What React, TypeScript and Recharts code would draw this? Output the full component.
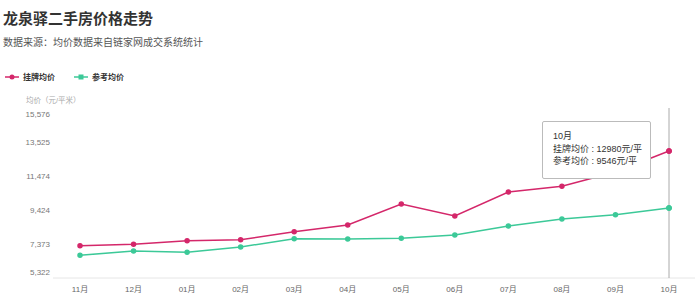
import { CartesianGrid, Line, LineChart, Tooltip, XAxis, YAxis } from 'recharts';

const months = ['11月', '12月', '01月', '02月', '03月', '04月', '05月', '06月', '07月', '08月', '09月', '10月'];
const listingPrice = [7270, 7355, 7572, 7632, 8115, 8519, 9786, 9062, 10510, 10853, 11716, 12980];
const referencePrice = [6691, 6951, 6872, 7192, 7693, 7674, 7717, 7916, 8459, 8881, 9140, 9546];
const yTicks = [5322, 7373, 9424, 11474, 13525, 15576];

const RED = '#d4276a';
const GREEN = '#3cc998';
const FONT = '"Liberation Sans", "Noto Sans CJK SC", sans-serif';

const data = months.map((month, i) => ({
  month,
  listing: listingPrice[i],
  reference: referencePrice[i],
}));

function YTick({ x, y, payload, index }: any) {
  // the end labels are nudged inside the plot like in the source chart
  const shift = index === 0 ? -6 : index === yTicks.length - 1 ? 6 : 0;
  return (
    <text x={x} y={y + shift} dy="0.35em" textAnchor="end" fontSize={8} fill="#777" fontFamily={FONT}>
      {payload.value.toLocaleString('en-US')}
    </text>
  );
}

function TooltipBox({ active, payload, label }: any) {
  if (!active || !payload || !payload.length) return null;
  const row = payload[0].payload;
  return (
    <div
      style={{
        background: '#fff',
        border: '1px solid #bbb',
        borderRadius: 2,
        padding: '8px 8px 10px 10px',
        fontSize: 9,
        lineHeight: '12.5px',
        color: '#333',
        fontFamily: FONT,
        whiteSpace: 'nowrap',
      }}
    >
      <div>{label}</div>
      <div>挂牌均价 : {row.listing}元/平</div>
      <div>参考均价 : {row.reference}元/平</div>
    </div>
  );
}

export default function App() {
  return (
    <div style={{ position: 'absolute', left: 0, top: 0, width: 700, height: 304, background: '#fff', fontFamily: FONT }}>
      <div style={{ position: 'absolute', left: 3, top: 7, fontSize: 15, fontWeight: 'bold', color: '#333' }}>
        龙泉驿二手房价格走势
      </div>
      <div style={{ position: 'absolute', left: 3, top: 34, fontSize: 10, color: '#555' }}>
        数据来源：均价数据来自链家网成交系统统计
      </div>
      <svg style={{ position: 'absolute', left: 0, top: 70 }} width={140} height={14}>
        <line x1={5} y1={7} x2={19} y2={7} stroke={RED} strokeWidth={1.5} />
        <circle cx={12} cy={7} r={2.5} fill={RED} />
        <text x={23} y={7} dy="0.35em" fontSize={8} fontWeight="bold" fill="#333" fontFamily={FONT}>挂牌均价</text>
        <line x1={74} y1={7} x2={88} y2={7} stroke={GREEN} strokeWidth={1.5} />
        <rect x={78.5} y={4.5} width={5} height={5} fill={GREEN} />
        <text x={92} y={7} dy="0.35em" fontSize={8} fontWeight="bold" fill="#333" fontFamily={FONT}>参考均价</text>
      </svg>
      <div style={{ position: 'absolute', left: 26, top: 94, fontSize: 7.5, color: '#aaa' }}>均价（元/平米）</div>
      <div style={{ position: 'absolute', left: 0, top: 0 }}>
        <LineChart width={700} height={304} data={data} margin={{ top: 108, right: 5, bottom: 0, left: 0 }}>
          <CartesianGrid vertical={false} horizontal={false} />
          <XAxis
            dataKey="month"
            padding={{ left: 27, right: 26 }}
            height={26}
            tickSize={0}
            tickMargin={8}
            tick={{ fontSize: 8, fill: '#666', fontFamily: FONT }}
            axisLine={{ stroke: '#e6e6e6' }}
            tickLine={false}
          />
          <YAxis
            domain={[5322, 15576]}
            ticks={yTicks}
            width={53}
            tickSize={0}
            tickMargin={3}
            axisLine={false}
            tickLine={false}
            tick={<YTick />}
          />
          <Tooltip
            defaultIndex={11}
            content={<TooltipBox />}
            position={{ x: 542, y: 121 }}
            cursor={{ stroke: '#aaa', strokeWidth: 1 }}
            isAnimationActive={false}
          />
          <Line
            dataKey="listing"
            stroke={RED}
            strokeWidth={1.5}
            dot={{ r: 2, fill: RED, stroke: RED }}
            activeDot={{ r: 2.5, fill: RED, stroke: RED, strokeWidth: 1 }}
            isAnimationActive={false}
          />
          <Line
            dataKey="reference"
            stroke={GREEN}
            strokeWidth={1.5}
            dot={{ r: 2, fill: GREEN, stroke: GREEN }}
            activeDot={{ r: 2.5, fill: GREEN, stroke: GREEN, strokeWidth: 1 }}
            isAnimationActive={false}
          />
        </LineChart>
      </div>
    </div>
  );
}
